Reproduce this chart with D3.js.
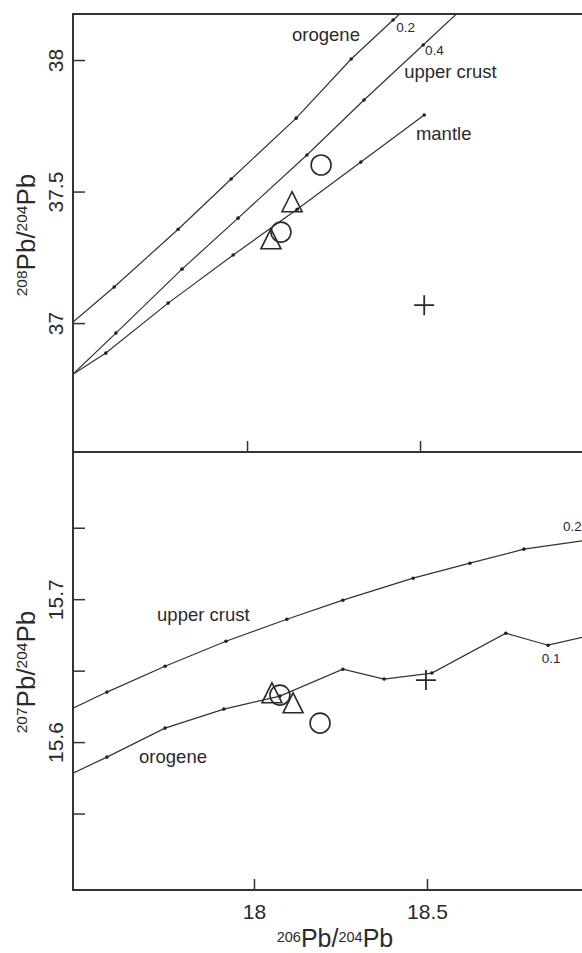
<!DOCTYPE html>
<html>
<head>
<meta charset="utf-8">
<script src="https://cdn.jsdelivr.net/npm/d3@7"></script>
<style>
  body { margin: 0; background: #fff; }
  svg { display: block; }
</style>
</head>
<body>
<svg id="plot" width="582" height="953"></svg>
<script>
// ---- top panel: 208Pb/204Pb vs 206Pb/204Pb ----
const topOrogene = [[17.497, 37.004], [17.616, 37.137], [17.801, 37.357], [17.954, 37.548], [18.142, 37.779], [18.301, 38.004], [18.422, 38.152], [18.457, 38.194]];
const topUpperCrust = [[17.497, 36.806], [17.621, 36.962], [17.812, 37.205], [17.974, 37.399], [18.173, 37.639], [18.338, 37.848], [18.509, 38.057], [18.679, 38.266]];
const topMantle = [[17.497, 36.806], [17.592, 36.886], [17.772, 37.076], [17.960, 37.259], [18.145, 37.433], [18.329, 37.612], [18.512, 37.791]];
const topTriangles = [[18.069, 37.308], [18.130, 37.449]];
const topCircles = [[18.098, 37.346], [18.214, 37.601]];
const topCrosses = [[18.512, 37.068]];
const topLabels = [
  {text: 'orogene', x: 18.130, y: 38.072, size: 18.5},
  {text: 'upper crust', x: 18.454, y: 37.932, size: 18.5},
  {text: 'mantle', x: 18.488, y: 37.696, size: 18.5},
  {text: '0.2', x: 18.431, y: 38.106, size: 13.5},
  {text: '0.4', x: 18.514, y: 38.019, size: 13.5}
];
const topYTicks = [37, 37.5, 38];
const topXTicks = [18, 18.5];

// ---- bottom panel: 207Pb/204Pb vs 206Pb/204Pb ----
const botUpperCrust = [[17.477, 15.6238], [17.575, 15.6350], [17.743, 15.6531], [17.919, 15.6706], [18.095, 15.6860], [18.257, 15.6993], [18.460, 15.7147], [18.624, 15.7252], [18.780, 15.7350], [18.960, 15.7413]];
const botOrogene = [[17.477, 15.5783], [17.575, 15.5895], [17.743, 15.6098], [17.913, 15.6231], [18.075, 15.6322], [18.257, 15.6510], [18.376, 15.6441], [18.514, 15.6483], [18.728, 15.6762], [18.850, 15.6678], [19.000, 15.6762]];
const botTriangles = [[18.052, 15.6322], [18.113, 15.6252]];
const botCircles = [[18.075, 15.6329], [18.191, 15.6133]];
const botCrosses = [[18.497, 15.6434]];
const botLabels = [
  {text: 'upper crust', x: 17.720, y: 15.6846, size: 18.5},
  {text: 'orogene', x: 17.668, y: 15.5853, size: 18.5},
  {text: '0.1', x: 18.832, y: 15.6552, size: 13.5},
  {text: '0.2', x: 18.893, y: 15.7476, size: 13.5}
];
const botYTicks = [15.55, 15.6, 15.65, 15.7, 15.75];
const botYLabelled = [15.6, 15.7];
const botXTicks = [18, 18.5];

const FONT = '"Liberation Sans", Arial, sans-serif';
const INK = '#2a2a2a';

const svg = d3.select('#plot');
const edgeL = 73, edgeR = 582, edgeT = 14, edgeM = 452, edgeB = 890;

const xTop = d3.scaleLinear().domain([17.497, 18.968]).range([edgeL, edgeR]);
const yTop = d3.scaleLinear().domain([36.51, 38.175]).range([edgeM, edgeT]);
const xBot = d3.scaleLinear().domain([17.477, 18.948]).range([edgeL, edgeR]);
const yBot = d3.scaleLinear().domain([15.4965, 15.803]).range([edgeB, edgeM]);

const defs = svg.append('defs');
defs.append('clipPath').attr('id', 'clipTop')
  .append('rect').attr('x', edgeL).attr('y', edgeT).attr('width', 600).attr('height', edgeM - edgeT);
defs.append('clipPath').attr('id', 'clipBot')
  .append('rect').attr('x', edgeL).attr('y', edgeM).attr('width', 600).attr('height', edgeB - edgeM);

function drawPanel(cfg) {
  const g = svg.append('g').attr('clip-path', 'url(#' + cfg.clip + ')');
  const line = d3.line().x(d => cfg.x(d[0])).y(d => cfg.y(d[1]));

  cfg.curves.forEach(c => {
    g.append('path')
      .attr('d', line(c))
      .attr('fill', 'none')
      .attr('stroke', '#333')
      .attr('stroke-width', 1.2);
    g.selectAll(null)
      .data(c.slice(1))
      .enter()
      .append('circle')
        .attr('cx', d => cfg.x(d[0]))
        .attr('cy', d => cfg.y(d[1]))
        .attr('r', 1.8)
        .attr('fill', '#222');
  });

  // triangles (centroid-centred, 20 wide, 20 tall)
  g.selectAll(null)
    .data(cfg.triangles)
    .enter()
    .append('path')
      .attr('transform', d => 'translate(' + cfg.x(d[0]) + ',' + cfg.y(d[1]) + ')')
      .attr('d', 'M0,-13.3L10,6.7L-10,6.7Z')
      .attr('fill', 'none')
      .attr('stroke', INK)
      .attr('stroke-width', 1.6);

  g.selectAll(null)
    .data(cfg.circles)
    .enter()
    .append('circle')
      .attr('cx', d => cfg.x(d[0]))
      .attr('cy', d => cfg.y(d[1]))
      .attr('r', 10)
      .attr('fill', 'none')
      .attr('stroke', INK)
      .attr('stroke-width', 1.6);

  g.selectAll(null)
    .data(cfg.crosses)
    .enter()
    .append('path')
      .attr('transform', d => 'translate(' + cfg.x(d[0]) + ',' + cfg.y(d[1]) + ')')
      .attr('d', 'M-10,0H10M0,-10V10')
      .attr('fill', 'none')
      .attr('stroke', INK)
      .attr('stroke-width', 1.8);

  g.selectAll(null)
    .data(cfg.labels)
    .enter()
    .append('text')
      .attr('x', d => cfg.x(d.x))
      .attr('y', d => cfg.y(d.y))
      .attr('font-family', FONT)
      .attr('font-size', d => d.size)
      .attr('fill', INK)
      .text(d => d.text);

  // inward ticks on the left axis, labels rotated
  const ya = svg.append('g')
    .attr('transform', 'translate(' + edgeL + ',0)')
    .style('color', '#333')
    .call(d3.axisLeft(cfg.y).tickValues(cfg.yTicks).tickSize(-12)
      .tickFormat(v => cfg.yLabelled.includes(v) ? String(v) : ''));
  ya.select('.domain').remove();
  ya.selectAll('line').attr('stroke-width', 1.5);
  ya.selectAll('text')
    .attr('transform', 'rotate(-90)')
    .attr('x', 0).attr('y', -10).attr('dy', 0)
    .attr('text-anchor', 'middle')
    .attr('font-family', FONT)
    .attr('font-size', 21)
    .attr('fill', INK);

  const xa = svg.append('g')
    .attr('transform', 'translate(0,' + cfg.y.range()[0] + ')')
    .style('color', '#333')
    .call(d3.axisBottom(cfg.x).tickValues(cfg.xTicks).tickSize(-11)
      .tickPadding(14)
      .tickFormat(v => cfg.xLabels ? String(v) : ''));
  xa.select('.domain').remove();
  xa.selectAll('line').attr('stroke-width', 1.5);
  xa.selectAll('text')
    .attr('font-family', FONT)
    .attr('font-size', 21)
    .attr('fill', INK);
}

drawPanel({
  clip: 'clipTop', x: xTop, y: yTop,
  curves: [topOrogene, topUpperCrust, topMantle],
  triangles: topTriangles, circles: topCircles, crosses: topCrosses,
  labels: topLabels, yTicks: topYTicks, yLabelled: topYTicks,
  xTicks: topXTicks, xLabels: false
});

drawPanel({
  clip: 'clipBot', x: xBot, y: yBot,
  curves: [botUpperCrust, botOrogene],
  triangles: botTriangles, circles: botCircles, crosses: botCrosses,
  labels: botLabels, yTicks: botYTicks, yLabelled: botYLabelled,
  xTicks: botXTicks, xLabels: true
});

// frame
const frame = svg.append('g').attr('stroke', '#333').attr('stroke-width', 2);
frame.append('line').attr('x1', edgeL).attr('x2', edgeL).attr('y1', edgeT - 1).attr('y2', edgeB + 1);
[edgeT, edgeM, edgeB].forEach(yy => {
  frame.append('line').attr('x1', edgeL).attr('x2', edgeR).attr('y1', yy).attr('y2', yy);
});

// axis titles with superscripts
function isoTitle(sel, sup1, sup2, big, small, shift) {
  const t = sel.append('text')
    .attr('text-anchor', 'middle')
    .attr('font-family', FONT)
    .attr('fill', INK);
  t.append('tspan').attr('font-size', small).attr('dy', -shift).text(sup1);
  t.append('tspan').attr('font-size', big).attr('dy', shift).text('Pb/');
  t.append('tspan').attr('font-size', small).attr('dy', -shift).text(sup2);
  t.append('tspan').attr('font-size', big).attr('dy', shift).text('Pb');
  return t;
}

isoTitle(svg.append('g').attr('transform', 'translate(35,235) rotate(-90)'), '208', '204', 26, 15.5, 8);
isoTitle(svg.append('g').attr('transform', 'translate(35,672) rotate(-90)'), '207', '204', 26, 15.5, 8);
isoTitle(svg.append('g').attr('transform', 'translate(335,947)'), '206', '204', 25, 14.5, 5);
</script>
</body>
</html>
